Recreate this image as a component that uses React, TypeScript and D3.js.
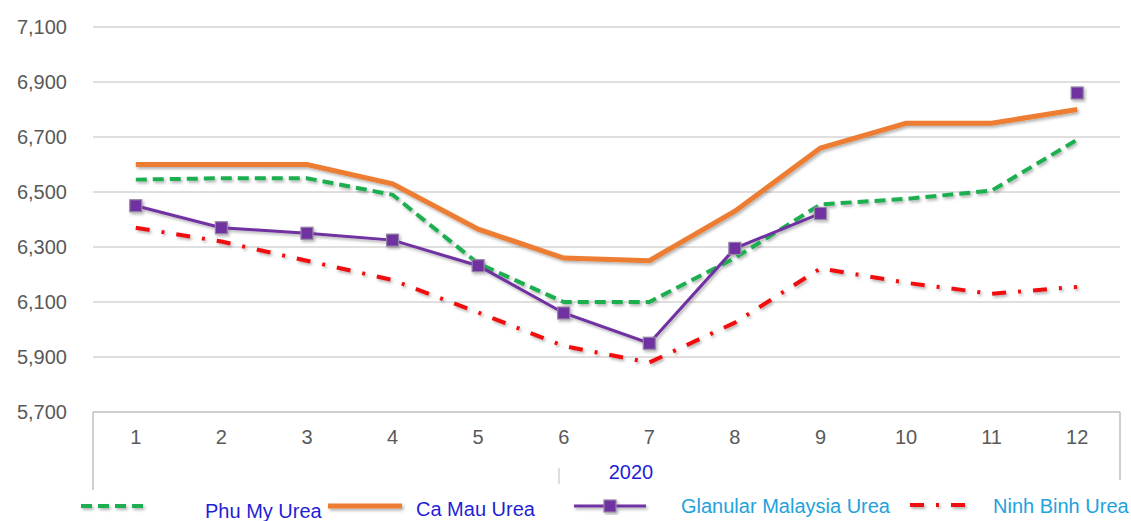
import React from "react";
import * as d3 from "d3";

const months = ["1", "2", "3", "4", "5", "6", "7", "8", "9", "10", "11", "12"];
const yTicks = [5700, 5900, 6100, 6300, 6500, 6700, 6900, 7100];
const phuMy = [6545, 6550, 6550, 6490, 6240, 6100, 6100, 6260, 6455, 6475, 6505, 6690];
const caMau = [6600, 6600, 6600, 6530, 6365, 6260, 6250, 6430, 6660, 6750, 6750, 6800];
const malaysia: (number | null)[] = [6450, 6370, 6350, 6325, 6232, 6060, 5950, 6295, 6422, null, null, 6860];
const ninhBinh = [6370, 6320, 6250, 6180, 6062, 5940, 5880, 6025, 6222, 6170, 6130, 6155];
const yearLabel = "2020";
const legendNames = ["Phu My Urea", "Ca Mau Urea", "Glanular Malaysia Urea", "Ninh Binh Urea"];

const W = 1131;
const H = 521;
const left = 93;
const right = 1120;
const top = 27;
const bottom = 412;
const FONT = "'Liberation Sans', Arial, sans-serif";

export default function App() {
  const x = d3.scalePoint<string>().domain(months).range([left, right]).padding(0.5);
  const y = d3.scaleLinear().domain([5700, 7100]).range([bottom, top]);

  const mk = (vals: (number | null)[]) =>
    d3
      .line<number | null>()
      .defined((d) => d !== null)
      .x((_, i) => x(months[i]) as number)
      .y((d) => y(d as number))(vals) as string;

  const green = "#1fae50";
  const orange = "#ED7D31";
  const purple = "#7030A0";
  const red = "#F01010";
  const dark = "#595959";
  const blue = "#1f1fd6";
  const light = "#22a2dc";

  return (
    <svg width={W} height={H} style={{ position: "absolute", left: 0, top: 0, background: "#fff" }}>
      <defs>
        <filter id="sh" x="-10%" y="-10%" width="120%" height="130%">
          <feDropShadow dx="1.5" dy="2" stdDeviation="1.5" floodColor="#000" floodOpacity="0.3" />
        </filter>
      </defs>
      {/* gridlines */}
      {yTicks.map((t) => (
        <line key={t} x1={left} x2={right} y1={y(t)} y2={y(t)} stroke={t === 5700 ? "#bfbfbf" : "#d4d4d4"} strokeWidth={1.5} />
      ))}
      {yTicks.map((t) => (
        <text key={"l" + t} x={67} y={y(t) + 7} textAnchor="end" fontFamily={FONT} fontSize={20} fill={dark}>
          {d3.format(",")(t)}
        </text>
      ))}
      {/* axis frame */}
      <line x1={left} x2={left} y1={bottom} y2={490} stroke="#bfbfbf" strokeWidth={1.5} />
      <line x1={right} x2={right} y1={bottom} y2={480} stroke="#bfbfbf" strokeWidth={1.5} />
      <line x1={559} x2={559} y1={468} y2={484} stroke="#c8c8c8" strokeWidth={1.2} />
      {months.map((m) => (
        <text key={m} x={x(m)} y={444} textAnchor="middle" fontFamily={FONT} fontSize={20} fill={dark}>
          {m}
        </text>
      ))}
      <text x={631} y={479} textAnchor="middle" fontFamily={FONT} fontSize={20} fill={blue}>
        {yearLabel}
      </text>

      {/* series */}
      <g filter="url(#sh)">
        <path d={mk(ninhBinh)} fill="none" stroke={red} strokeWidth={4} strokeDasharray="14 12 3 12" />
        <path d={mk(phuMy)} fill="none" stroke={green} strokeWidth={4} strokeDasharray="11 6" />
        <path d={mk(caMau)} fill="none" stroke={orange} strokeWidth={5} />
        <path d={mk(malaysia)} fill="none" stroke={purple} strokeWidth={3} />
        {malaysia.map((v, i) =>
          v === null ? null : (
            <rect key={i} x={(x(months[i]) as number) - 6} y={y(v) - 6} width={12} height={12} fill={purple} stroke="#9585a5" strokeWidth={1.2} />
          )
        )}
      </g>

      {/* legend */}
      <g filter="url(#sh)">
        <line x1={81} x2={145} y1={506} y2={506} stroke={green} strokeWidth={4} strokeDasharray="11 6" />
        <line x1={328} x2={402} y1={506} y2={506} stroke={orange} strokeWidth={5} />
        <line x1={574} x2={646} y1={506} y2={506} stroke={purple} strokeWidth={3} />
        <rect x={604} y={500} width={12} height={12} fill={purple} stroke="#9585a5" strokeWidth={1.2} />
        <line x1={910} x2={977} y1={505} y2={505} stroke={red} strokeWidth={4} strokeDasharray="14 12 3 12" />
      </g>
      <text x={205} y={518} fontFamily={FONT} fontSize={20} fill={blue}>{legendNames[0]}</text>
      <text x={416} y={516} fontFamily={FONT} fontSize={20} fill={blue}>{legendNames[1]}</text>
      <text x={681} y={513} fontFamily={FONT} fontSize={20} fill={light}>{legendNames[2]}</text>
      <text x={993} y={513} fontFamily={FONT} fontSize={20} fill={light}>{legendNames[3]}</text>
    </svg>
  );
}
